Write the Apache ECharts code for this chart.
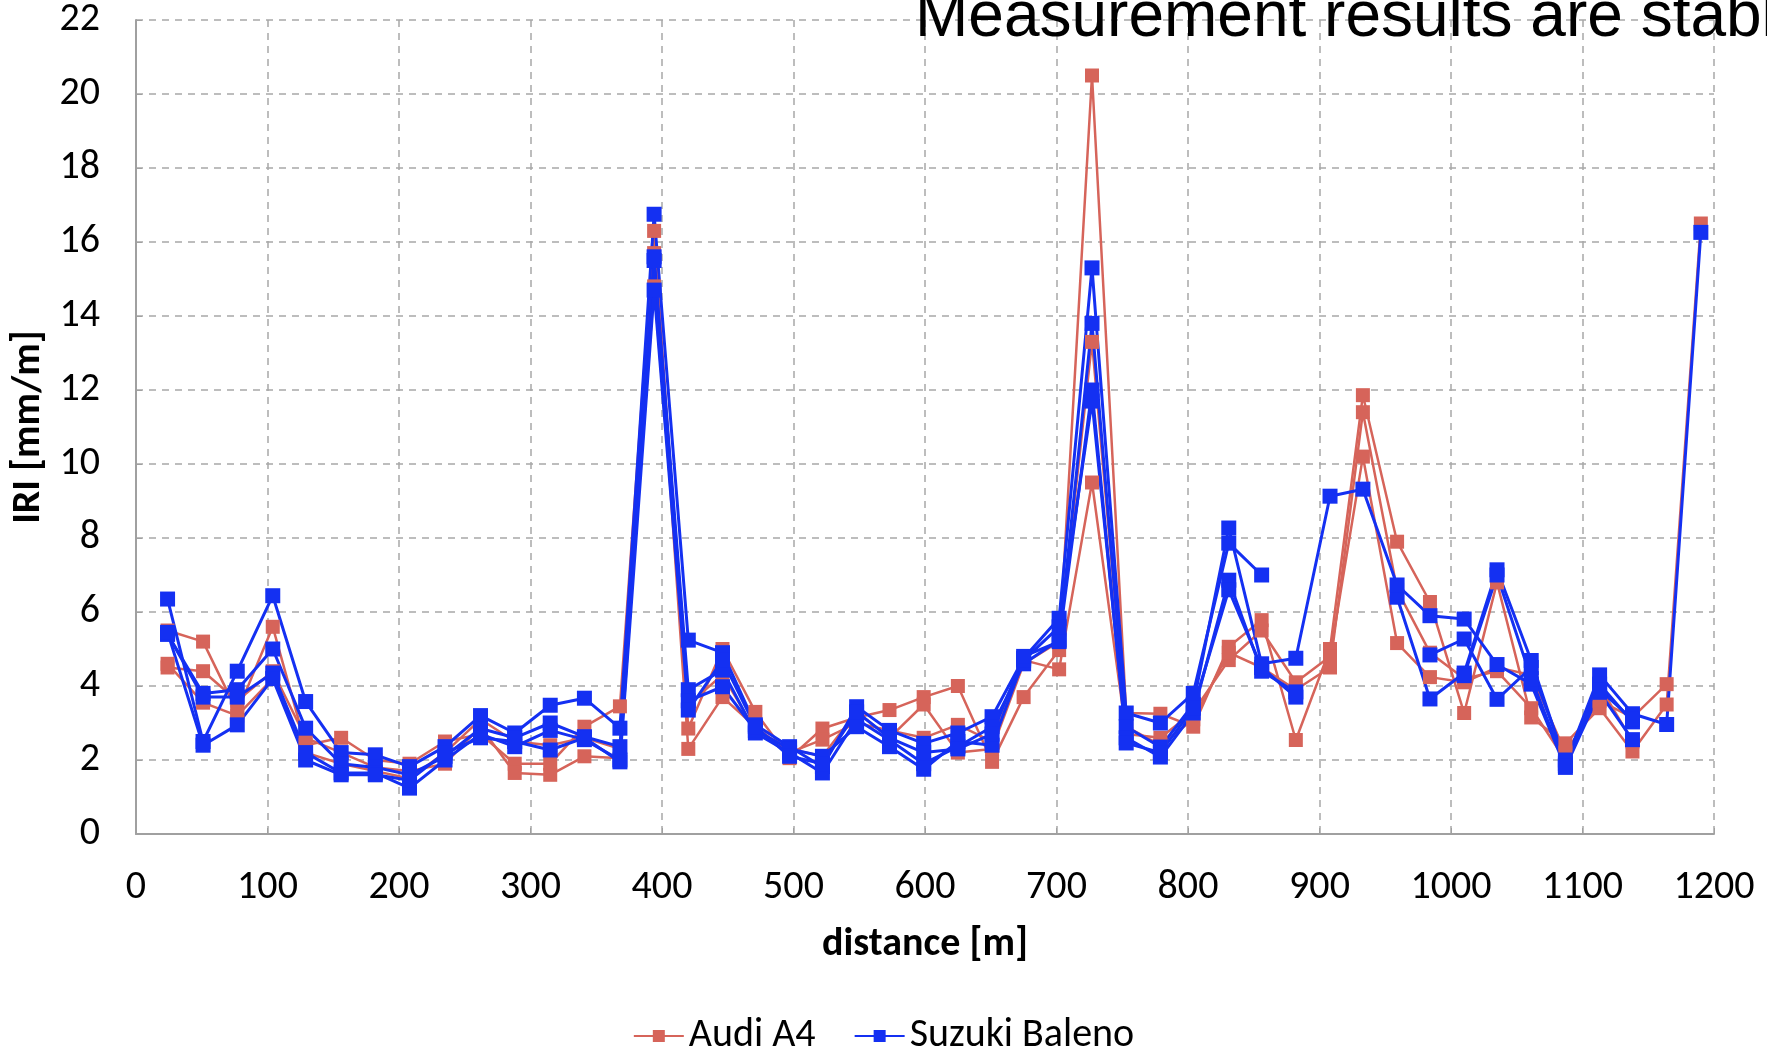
<!DOCTYPE html>
<html>
<head>
<meta charset="utf-8">
<title>IRI vs distance</title>
<script src="https://cdn.jsdelivr.net/npm/echarts@6/dist/echarts.min.js"></script>
<style>
  html, body { margin: 0; padding: 0; background: #fff; }
  #chart { width: 1767px; height: 1052px; }
</style>
</head>
<body>
<div id="chart"></div>
<script>
// distance of each measurement section [m]
const distance = [24, 51, 77, 104, 129, 156, 182, 208, 235, 262, 288, 315, 341, 368, 394, 420,
  446, 471, 497, 522, 548, 573, 599, 625, 651, 675, 702, 727, 753, 779, 804, 831, 856, 882,
  908, 933, 959, 984, 1010, 1035, 1061, 1087, 1113, 1138, 1164, 1190];

// Audi A4 runs, IRI [mm/m]
const audiRun1 = [5.5, 5.2, 3.3, 5.6, 2.4, 2.6, 2.0, 1.9, 2.5, 2.7, 1.9, 1.9, 2.9, 3.45, 16.3, 2.85,
  5.0, 3.3, 2.05, 2.85, 3.15, 3.35, 3.7, 4.0, 1.95, 3.7, 4.97, 20.5, 3.27, 3.25, 2.9, 5.06, 5.78, 2.54,
  5.0, 11.86, 7.9, 6.27, 3.27, 6.8, 3.15, 2.45, 3.4, 2.23, 3.5, 16.5];
const audiRun2 = [4.5, 4.4, 3.6, 4.4, 2.6, 2.2, 1.8, 1.7, 1.9, 2.9, 1.65, 1.6, 2.1, 2.05, 15.7, 2.3,
  3.7, 2.9, 2.2, 2.55, 3.0, 2.8, 2.6, 2.95, 2.5, 4.7, 4.45, 9.5, 2.7, 2.6, 3.3, 4.7, 5.5, 4.1,
  4.8, 10.2, 5.16, 4.24, 4.1, 4.5, 4.3, 2.2, 3.6, 3.15, 4.05, null];
const audiRun3 = [4.6, 3.55, 3.2, 4.2, 2.2, 1.9, 1.7, 1.5, 2.2, 3.1, 2.5, 2.4, 2.6, 2.3, 14.8, 3.5,
  4.3, 2.8, 2.3, 2.1, 3.3, 2.6, 3.5, 2.2, 2.3, 4.6, 5.2, 13.3, 2.9, 2.4, 3.1, 4.9, 4.5, 3.9,
  4.5, 11.4, 6.6, 4.9, 4.2, 4.4, 3.4, 2.0, 4.0, 2.5, null, null];

// Suzuki Baleno runs, IRI [mm/m]
const balenoRun1 = [6.35, 2.5, 4.4, 6.44, 3.58, 2.2, 2.14, 1.82, 2.36, 3.2, 2.73, 3.48, 3.67, 2.86, 16.75, 5.24,
  4.9, 2.95, 2.36, 1.82, 3.44, 2.8, 2.45, 2.73, 3.17, 4.75, 5.83, 15.3, 3.27, 3.0, 3.8, 7.86, 7.0, null,
  null, null, 6.4, 3.65, 4.35, 7.14, 4.69, 1.9, 4.3, 3.25, 2.96, 16.26];
const balenoRun2 = [5.4, 3.8, 3.9, 5.0, 2.86, 1.9, 1.8, 1.6, 2.1, 2.85, 2.6, 3.0, 2.63, 2.36, 15.6, 3.9,
  4.43, 2.73, 2.2, 1.65, 3.1, 2.54, 1.9, 2.36, 2.9, 4.6, 5.24, 13.8, 2.9, 2.35, 3.5, 8.27, 4.6, 4.75,
  9.13, 9.32, 6.73, 5.9, 5.81, 4.58, 4.05, 1.8, 3.83, 2.55, null, null];
const balenoRun3 = [5.4, 3.7, 3.7, 4.35, 2.2, 1.65, 1.65, 1.24, 2.0, 2.7, 2.36, 2.8, 2.55, 2.0, 15.5, 3.6,
  3.98, 2.8, 2.3, 2.1, 2.9, 2.36, 1.75, 2.5, 2.4, 4.7, 5.6, 11.7, 2.6, 2.08, 3.27, 6.86, 4.4, 3.84,
  null, null, null, 4.84, 5.27, 3.64, 4.5, 2.0, 4.05, 3.03, null, null];
const balenoRun4 = [5.45, 2.4, 2.95, 4.2, 2.0, 1.6, 1.6, 1.45, 2.2, 2.6, 2.5, 2.27, 2.6, 1.95, 14.7, 3.35,
  4.7, 2.9, 2.1, 1.9, 3.3, 2.6, 2.2, 2.3, 2.7, 4.8, 5.2, 12.0, 2.46, 2.2, 3.4, 6.6, 4.5, 3.7,
  null, null, null, null, 4.28, 7.0, 4.2, 1.85, 3.9, 3.1, null, null];

const AUDI = 'Audi A4';
const BALENO = 'Suzuki Baleno';
const audiColor = '#d6645a';
const balenoColor = '#1430f2';
const labelFont = 'Carlito, Lato, "Open Sans", sans-serif';

const chart = echarts.init(document.getElementById('chart'));

function pairs(values) {
  return distance.map((d, i) => [d, values[i]]);
}

function makeSeries(name, values, color, width, size) {
  return {
    name: name,
    type: 'line',
    data: pairs(values),
    symbol: 'rect',
    symbolSize: size,
    connectNulls: false,
    lineStyle: { color: color, width: width },
    itemStyle: { color: color },
    emphasis: { disabled: true }
  };
}

const gridDash = { color: '#a8a8a8', width: 1.5, type: [7, 6] };

const option = {
  animation: false,
  backgroundColor: '#fff',
  textStyle: { fontFamily: labelFont, color: '#000' },
  graphic: [{
    type: 'text',
    left: 915,
    top: -14,
    z: 100,
    style: {
      text: 'Measurement results are stable',
      fontFamily: '"Liberation Sans", Arial, sans-serif',
      fontSize: 64,
      fill: '#000'
    }
  }],
  legend: {
    bottom: -9,
    left: 'center',
    itemWidth: 50,
    itemHeight: 15,
    itemGap: 38,
    data: [AUDI, BALENO],
    textStyle: { fontFamily: labelFont, fontSize: 40, color: '#000' }
  },
  grid: { left: 136, right: 53, top: 20, bottom: 218 },
  xAxis: {
    type: 'value',
    min: 0,
    max: 1200,
    interval: 100,
    name: 'distance [m]',
    nameLocation: 'middle',
    nameGap: 91,
    nameTextStyle: { fontFamily: labelFont, fontSize: 40, fontWeight: 'bold', color: '#000' },
    axisLine: { show: true, lineStyle: { color: '#a0a0a0', width: 2 } },
    axisTick: { show: true, inside: true, length: 6, lineStyle: { color: '#a0a0a0' } },
    axisLabel: { fontFamily: labelFont, fontSize: 40, color: '#000', margin: 34, formatter: v => String(v) },
    splitLine: { show: true, lineStyle: gridDash }
  },
  yAxis: {
    type: 'value',
    min: 0,
    max: 22,
    interval: 2,
    name: 'IRI [mm/m]',
    nameLocation: 'middle',
    nameRotate: 90,
    nameGap: 80,
    nameTextStyle: { fontFamily: labelFont, fontSize: 40, fontWeight: 'bold', color: '#000' },
    axisLine: { show: true, lineStyle: { color: '#a0a0a0', width: 2 } },
    axisTick: { show: true, inside: true, length: 6, lineStyle: { color: '#a0a0a0' } },
    axisLabel: { fontFamily: labelFont, fontSize: 40, color: '#000', margin: 36, formatter: v => String(v) },
    splitLine: { show: true, lineStyle: gridDash }
  },
  series: [
    makeSeries(AUDI, audiRun1, audiColor, 2.5, 14),
    makeSeries(AUDI, audiRun2, audiColor, 2.5, 14),
    makeSeries(AUDI, audiRun3, audiColor, 2.5, 14),
    makeSeries(BALENO, balenoRun1, balenoColor, 3, 15),
    makeSeries(BALENO, balenoRun2, balenoColor, 3, 15),
    makeSeries(BALENO, balenoRun3, balenoColor, 3, 15),
    makeSeries(BALENO, balenoRun4, balenoColor, 3, 15)
  ]
};

chart.setOption(option);
</script>
</body>
</html>
